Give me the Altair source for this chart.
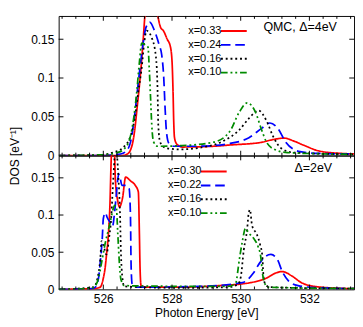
import altair as alt
import pandas as pd

FONT = "Liberation Sans"
W = 309
H_TOP = 146
H_BOT = 140
X_DOMAIN = [524.7, 533.3]
Y_DOMAIN = [0, 0.18]

top_series = ["x=0.33", "x=0.24", "x=0.16", "x=0.10"]
bot_series = ["x=0.30", "x=0.22", "x=0.16", "x=0.10"]
colors = ["#ff0000", "#0000ff", "#000000", "#008b00"]
dashes = [[1, 0], [10, 5], [2, 3], [7, 3, 2, 3, 2, 3]]

x_major = [526, 528, 530, 532]
x_minor = [524.8, 525.2, 525.6, 526.4, 526.8, 527.2, 527.6, 528.4, 528.8,
           529.2, 529.6, 530.4, 530.8, 531.2, 531.6, 532.4, 532.8, 533.2]
y_major = [0.05, 0.1, 0.15]
y_labels = [0, 0.05, 0.1, 0.15]

# ---------- top panel: QMC, Delta = 4 eV ----------
top_e_033 = [524.7, 526.0, 526.56, 526.70, 526.78, 526.87, 526.92, 526.98, 527.05, 527.12,
             527.17, 527.21, 527.31, 527.42, 527.53, 527.61, 527.67, 527.75, 527.86, 527.95,
             528.0, 528.03, 528.05, 528.07, 528.12, 528.19, 528.29, 529.21, 529.68, 530.6,
             530.88, 531.27, 531.53, 531.82, 532.29, 532.94, 533.3]
top_d_033 = [0.0, 0.0, 0.0, 0.002, 0.006, 0.02, 0.035, 0.06, 0.09, 0.125,
             0.155, 0.18, 0.205, 0.21, 0.195, 0.175, 0.165, 0.161, 0.15, 0.141,
             0.122, 0.083, 0.044, 0.024, 0.016, 0.013, 0.011, 0.012, 0.0136, 0.017,
             0.020, 0.0225, 0.019, 0.0136, 0.0058, 0.0027, 0.002]

top_e_024 = [524.7, 526.0, 526.28, 526.50, 526.65, 526.79, 526.88, 526.98, 527.07, 527.16,
             527.24, 527.35, 527.49, 527.63, 527.70, 527.76, 527.80, 527.84, 527.91, 528.04,
             528.79, 529.68, 530.24, 530.61, 530.85, 531.08, 531.31, 531.73, 532.29, 533.3]
top_d_024 = [0.0, 0.0, 0.001, 0.002, 0.005, 0.017, 0.041, 0.079, 0.114, 0.145,
             0.165, 0.172, 0.161, 0.142, 0.13, 0.10, 0.06, 0.03, 0.0155, 0.012,
             0.012, 0.0155, 0.023, 0.035, 0.042, 0.035, 0.0174, 0.005, 0.0027, 0.002]

top_e_016 = [524.7, 526.0, 526.28, 526.56, 526.79, 526.93, 527.02, 527.12, 527.19, 527.26,
             527.40, 527.53, 527.58, 527.60, 527.65, 527.76, 527.90, 528.23, 528.79, 529.50,
             529.96, 530.24, 530.52, 530.75, 530.94, 531.17, 531.55, 533.3]
top_d_016 = [0.0, 0.001, 0.004, 0.0097, 0.025, 0.052, 0.083, 0.114, 0.145, 0.161,
             0.153, 0.128, 0.083, 0.04, 0.018, 0.011, 0.009, 0.008, 0.01, 0.019,
             0.033, 0.048, 0.058, 0.045, 0.025, 0.0097, 0.0038, 0.0015]

top_e_010 = [524.7, 526.0, 526.42, 526.64, 526.79, 526.89, 526.98, 527.05, 527.12, 527.21,
             527.30, 527.34, 527.38, 527.41, 527.46, 527.58, 528.29, 529.22, 529.68, 529.96,
             530.19, 530.43, 530.61, 530.75, 530.99, 531.36, 533.3]
top_d_010 = [0.0, 0.001, 0.004, 0.01, 0.025, 0.05, 0.085, 0.12, 0.145, 0.143,
             0.14, 0.11, 0.07, 0.04, 0.018, 0.012, 0.0128, 0.0174, 0.031, 0.056,
             0.068, 0.056, 0.033, 0.0174, 0.0078, 0.0038, 0.0015]

# ---------- bottom panel: Delta = 2 eV ----------
bot_e_030 = [524.7, 525.72, 525.91, 526.0, 526.05, 526.10, 526.14, 526.19, 526.23, 526.28,
             526.33, 526.35, 526.42, 526.47, 526.56, 526.65, 526.79, 526.93, 527.02, 527.05,
             527.07, 527.10, 527.26, 528.23, 529.35, 530.28, 530.74, 531.02, 531.21, 531.49,
             531.77, 532.14, 533.07, 533.3]
bot_d_030 = [0.0, 0.001, 0.003, 0.015, 0.028, 0.05, 0.069, 0.11, 0.175, 0.21,
             0.18, 0.148, 0.119, 0.111, 0.123, 0.151, 0.146, 0.14, 0.131, 0.076,
             0.028, 0.005, 0.003, 0.003, 0.005, 0.009, 0.015, 0.022, 0.024, 0.018,
             0.009, 0.004, 0.0012, 0.001]

bot_e_022 = [524.7, 525.67, 525.77, 525.86, 525.91, 525.97, 526.0, 526.06, 526.11, 526.20,
             526.27, 526.32, 526.37, 526.45, 526.49, 526.54, 526.65, 526.75, 526.79, 526.81,
             526.84, 526.98, 528.79, 530.05, 530.37, 530.56, 530.74, 530.88, 531.07, 531.21,
             531.39, 531.67, 532.14, 533.3]
bot_d_022 = [0.0, 0.001, 0.003, 0.015, 0.036, 0.069, 0.095, 0.103, 0.097, 0.09,
             0.085, 0.1, 0.123, 0.155, 0.15, 0.14, 0.14, 0.136, 0.1, 0.03,
             0.007, 0.003, 0.004, 0.009, 0.022, 0.036, 0.045, 0.047, 0.04, 0.024,
             0.0115, 0.005, 0.0025, 0.001]

bot_e_016 = [524.7, 525.72, 525.83, 525.91, 525.95, 526.0, 526.09, 526.17, 526.23, 526.28,
             526.33, 526.36, 526.40, 526.44, 526.49, 526.51, 526.56, 526.61, 528.23, 529.63,
             529.92, 530.0, 530.09, 530.19, 530.23, 530.27, 530.33, 530.47, 530.56, 530.63,
             530.66, 530.71, 530.84, 533.3]
bot_d_016 = [0.0, 0.003, 0.015, 0.04, 0.065, 0.06, 0.047, 0.07, 0.096, 0.14,
             0.18, 0.20, 0.18, 0.15, 0.096, 0.055, 0.014, 0.004, 0.002, 0.003,
             0.007, 0.016, 0.053, 0.082, 0.102, 0.107, 0.086, 0.074, 0.061, 0.045,
             0.02, 0.0075, 0.003, 0.001]

bot_e_010 = [524.7, 525.58, 525.72, 525.86, 525.95, 526.05, 526.19, 526.28, 526.33, 526.38,
             526.42, 526.47, 526.51, 526.61, 528.79, 529.63, 529.85, 529.96, 530.05, 530.14,
             530.23, 530.37, 530.51, 530.58, 530.64, 530.71, 530.80, 533.3]
bot_d_010 = [0.0, 0.001, 0.003, 0.015, 0.036, 0.061, 0.088, 0.107, 0.113, 0.11,
             0.076, 0.034, 0.014, 0.005, 0.004, 0.004, 0.008, 0.04, 0.065, 0.082,
             0.076, 0.069, 0.057, 0.045, 0.02, 0.007, 0.003, 0.001]


def make_df(names, es, ds):
    frames = []
    for i, (n, e, d) in enumerate(zip(names, es, ds)):
        frames.append(pd.DataFrame({"E": e, "DOS": d, "s": n, "k": i}))
    return pd.concat(frames, ignore_index=True)


top_df = make_df(top_series, [top_e_033, top_e_024, top_e_016, top_e_010],
                 [top_d_033, top_d_024, top_d_016, top_d_010])
bot_df = make_df(bot_series, [bot_e_030, bot_e_022, bot_e_016, bot_e_010],
                 [bot_d_030, bot_d_022, bot_d_016, bot_d_010])

# legend sample line drawn to the right of each label (unit-scaled custom symbol path)
LEGEND_SYMBOL = "M 40 0 L 67 0"


def panel(df, names, height, label_text, legend_x, legend_y, text_x, text_y, bottom):
    xscale = alt.Scale(domain=X_DOMAIN, nice=False, zero=False)
    yscale = alt.Scale(domain=Y_DOMAIN, nice=False)
    ykw = dict(values=y_labels, format="~g", ticks=False, tickSize=0, domain=False,
               grid=False, labelFont=FONT, labelFontSize=12.5, labelColor="black",
               labelPadding=5)
    if bottom:
        xaxis = alt.Axis(
            values=x_major, format="d", title="Photon Energy [eV]", ticks=False, tickSize=0,
            domain=False, grid=False, labelFont=FONT, labelFontSize=12.5, labelColor="black",
            labelPadding=4, titleFont=FONT, titleFontSize=12.5, titleFontWeight="normal",
            titleColor="black", titlePadding=2)
        yaxis = alt.Axis(title="DOS [eV\u207b\u00b9]", titleFont=FONT,
                         titleFontSize=12.5, titleFontWeight="normal", titleColor="black",
                         titleX=-39, titleY=0, **ykw)
        xk = dict(scale=xscale, axis=xaxis)
    else:
        yaxis = alt.Axis(title="", **ykw)
        xk = dict(scale=xscale, axis=None)
    yk = dict(scale=yscale, axis=yaxis)
    legend = alt.Legend(orient="none", legendX=legend_x, legendY=legend_y, title=None,
                        symbolType=LEGEND_SYMBOL, symbolSize=4, symbolStrokeWidth=2,
                        rowPadding=1.5, labelAlign="left", labelOffset=0,
                        labelFont=FONT, labelFontSize=11.5, labelColor="black", padding=0,
                        labelLimit=200)
    lines = alt.Chart(df).mark_line(clip=True, strokeWidth=1.8, interpolate="monotone").encode(
        x=alt.X("E:Q", **xk),
        y=alt.Y("DOS:Q", **yk),
        color=alt.Color("s:N", scale=alt.Scale(domain=names, range=colors), legend=legend),
        strokeDash=alt.StrokeDash("s:N", scale=alt.Scale(domain=names, range=dashes),
                                  legend=legend),
        detail="k:N",
    )
    xmaj = alt.Chart(pd.DataFrame({"E": x_major}))
    xmin = alt.Chart(pd.DataFrame({"E": x_minor}))
    ymaj = alt.Chart(pd.DataFrame({"DOS": y_major}))
    ticks = [
        xmaj.mark_rule(color="black").encode(x=alt.X("E:Q", **xk), y=alt.value(height), y2=alt.value(height - 5)),
        xmaj.mark_rule(color="black").encode(x=alt.X("E:Q", **xk), y=alt.value(0), y2=alt.value(5)),
        xmin.mark_rule(color="black").encode(x=alt.X("E:Q", **xk), y=alt.value(height), y2=alt.value(height - 3)),
        xmin.mark_rule(color="black").encode(x=alt.X("E:Q", **xk), y=alt.value(0), y2=alt.value(3)),
        ymaj.mark_rule(color="black").encode(y=alt.Y("DOS:Q", **yk), x=alt.value(0), x2=alt.value(5)),
        ymaj.mark_rule(color="black").encode(y=alt.Y("DOS:Q", **yk), x=alt.value(W), x2=alt.value(W - 5)),
    ]
    text = alt.Chart(pd.DataFrame({"t": [label_text]})).mark_text(
        align="right", baseline="middle", font=FONT, fontSize=13, color="black"
    ).encode(text="t:N", x=alt.value(text_x), y=alt.value(text_y))
    return alt.layer(lines, *ticks, text).properties(width=W, height=height)


top = panel(top_df, top_series, H_TOP, "QMC, \u0394=4eV", 124, 10, 291, 12, False)
bot = panel(bot_df, bot_series, H_BOT, "\u0394=2eV", 103, 11, 286, 13, True)

chart = alt.vconcat(top, bot, spacing=0, bounds="flush").resolve_scale(
    color="independent", strokeDash="independent"
).resolve_legend(
    color="independent", strokeDash="independent"
).properties(
    padding={"left": 0, "top": 0, "right": 0, "bottom": 0}
).configure_view(stroke="black", strokeWidth=1)

chart.save("out.html", embed_options={"renderer": "svg", "actions": False})
